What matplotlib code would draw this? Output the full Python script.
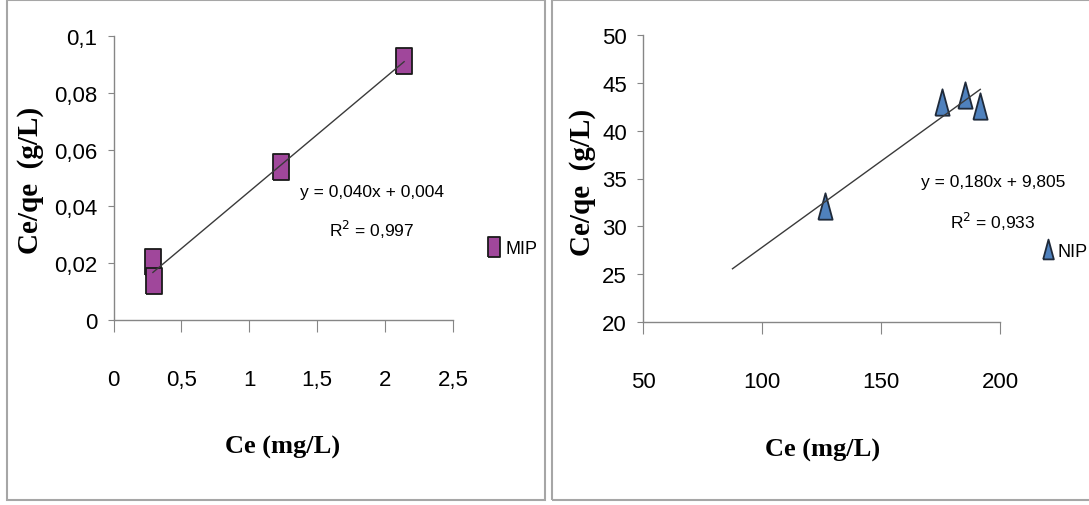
import matplotlib
matplotlib.use("Agg")
import matplotlib.pyplot as plt
import numpy as np
from matplotlib import font_manager
from matplotlib.patches import Rectangle

# Data
mip_ce = [0.29, 0.30, 1.23, 2.14]
mip_ceqe = [0.0204, 0.0137, 0.054, 0.0912]
nip_ce = [126.4, 175.5, 185.1, 191.7]
nip_ceqe = [32.1, 43.0, 43.7, 42.6]
nip_trend_start = 87.6  # trendline backward forecast

mip_xticks = [0, 0.5, 1, 1.5, 2, 2.5]
mip_xlabels = ["0", "0,5", "1", "1,5", "2", "2,5"]
mip_yticks = [0, 0.02, 0.04, 0.06, 0.08, 0.1]
mip_ylabels = ["0", "0,02", "0,04", "0,06", "0,08", "0,1"]
nip_xticks = [50, 100, 150, 200]
nip_xlabels = ["50", "100", "150", "200"]
nip_yticks = [20, 25, 30, 35, 40, 45, 50]
nip_ylabels = ["20", "25", "30", "35", "40", "45", "50"]

mip_eq = ["y = 0,040x + 0,004", "R$^2$ = 0,997"]
nip_eq = ["y = 0,180x + 9,805", "R$^2$ = 0,933"]

installed = {f.name for f in font_manager.fontManager.ttflist}
sans = [f for f in ["Liberation Sans Narrow", "Liberation Sans", "DejaVu Sans"] if f in installed]
serif = [f for f in ["Liberation Serif", "DejaVu Serif"] if f in installed]

GRAY = "#868686"
rect_marker = [(-0.29, -0.5), (0.29, -0.5), (0.29, 0.5), (-0.29, 0.5), (-0.29, -0.5)]
tri_marker = [(-0.27, -0.5), (0.27, -0.5), (0, 0.5), (-0.27, -0.5)]

fig = plt.figure(figsize=(10.89, 5.06), dpi=100)
fig.patch.set_facecolor("white")

# panel frames
for x0, x1 in [(7, 545), (552, 1100)]:
    fig.patches.append(Rectangle((x0 / 1089, 5 / 506), (x1 - x0) / 1089, 500 / 506,
                                 transform=fig.transFigure, fill=False,
                                 edgecolor="#A6A6A6", linewidth=1.5))


def style_axes(ax, xt, xl, yt, yl):
    for s in ["top", "right"]:
        ax.spines[s].set_visible(False)
    for s in ["left", "bottom"]:
        ax.spines[s].set_color(GRAY)
        ax.spines[s].set_linewidth(1.0)
    ax.set_xticks(xt)
    ax.set_xticklabels(xl, family=sans, fontsize=16)
    ax.set_yticks(yt)
    ax.set_yticklabels(yl, family=sans, fontsize=16)
    ax.tick_params(axis="x", direction="out", length=8.5, color=GRAY, pad=27)
    ax.tick_params(axis="y", direction="out", length=4.5, color=GRAY, pad=7)


# Left panel: MIP
ax1 = fig.add_axes([113.5 / 1089, 185 / 506, 339.5 / 1089, 284 / 506])
ax1.plot(mip_ce, mip_ceqe, linestyle="none", marker=rect_marker, markersize=19,
         markerfacecolor="#A0479B", markeredgecolor="#1A1A1A", markeredgewidth=1.3,
         label="MIP", zorder=3)
k, b = np.polyfit(mip_ce, mip_ceqe, 1)
xs = np.array([min(mip_ce), max(mip_ce)])
ax1.plot(xs, k * xs + b, color="#3A3A3A", linewidth=1.0, zorder=4)
ax1.set_xlim(0, 2.5)
ax1.set_ylim(0, 0.1)
style_axes(ax1, mip_xticks, mip_xlabels, mip_yticks, mip_ylabels)
ax1.text(0.76, 0.454, mip_eq[0], transform=ax1.transAxes, ha="center", va="center",
         family=sans, fontsize=12.5)
ax1.text(0.76, 0.32, mip_eq[1], transform=ax1.transAxes, ha="center", va="center",
         family=sans, fontsize=12.5)
ax1.legend(loc="center left", bbox_to_anchor=(1.085, 0.25), frameon=False,
           handlelength=0.6, handletextpad=0.3, borderaxespad=0,
           prop={"family": sans, "size": 13}, markerscale=0.75)

# Right panel: NIP
ax2 = fig.add_axes([643 / 1089, 183 / 506, 357 / 1089, 287 / 506])
ax2.plot(nip_ce, nip_ceqe, linestyle="none", marker=tri_marker, markersize=19,
         markerfacecolor="#4F81BD", markeredgecolor="#1F2A3A", markeredgewidth=1.3,
         label="NIP", zorder=3)
k2, b2 = np.polyfit(nip_ce, nip_ceqe, 1)
xs2 = np.array([nip_trend_start, max(nip_ce)])
ax2.plot(xs2, k2 * xs2 + b2, color="#3A3A3A", linewidth=1.0, zorder=4)
ax2.set_xlim(50, 200)
ax2.set_ylim(20, 50)
style_axes(ax2, nip_xticks, nip_xlabels, nip_yticks, nip_ylabels)
ax2.text(0.98, 0.488, nip_eq[0], transform=ax2.transAxes, ha="center", va="center",
         family=sans, fontsize=12.5)
ax2.text(0.98, 0.352, nip_eq[1], transform=ax2.transAxes, ha="center", va="center",
         family=sans, fontsize=12.5)
ax2.legend(loc="center left", bbox_to_anchor=(1.1, 0.247), frameon=False,
           handlelength=0.6, handletextpad=0.2, borderaxespad=0,
           prop={"family": sans, "size": 13}, markerscale=0.75)

# axis titles
for xc, yc in [(283, 447), (823, 450)]:
    fig.text(xc / 1089, 1 - yc / 506, "Ce (mg/L)", ha="center", va="center",
             family=serif, fontweight="bold", fontsize=19)
for xc, yc in [(31, 180), (582, 182)]:
    fig.text(xc / 1089, 1 - yc / 506, "Ce/qe  (g/L)", ha="center", va="center",
             rotation=90, family=serif, fontweight="bold", fontsize=21)

fig.savefig("out.png", dpi=100, facecolor="white")
